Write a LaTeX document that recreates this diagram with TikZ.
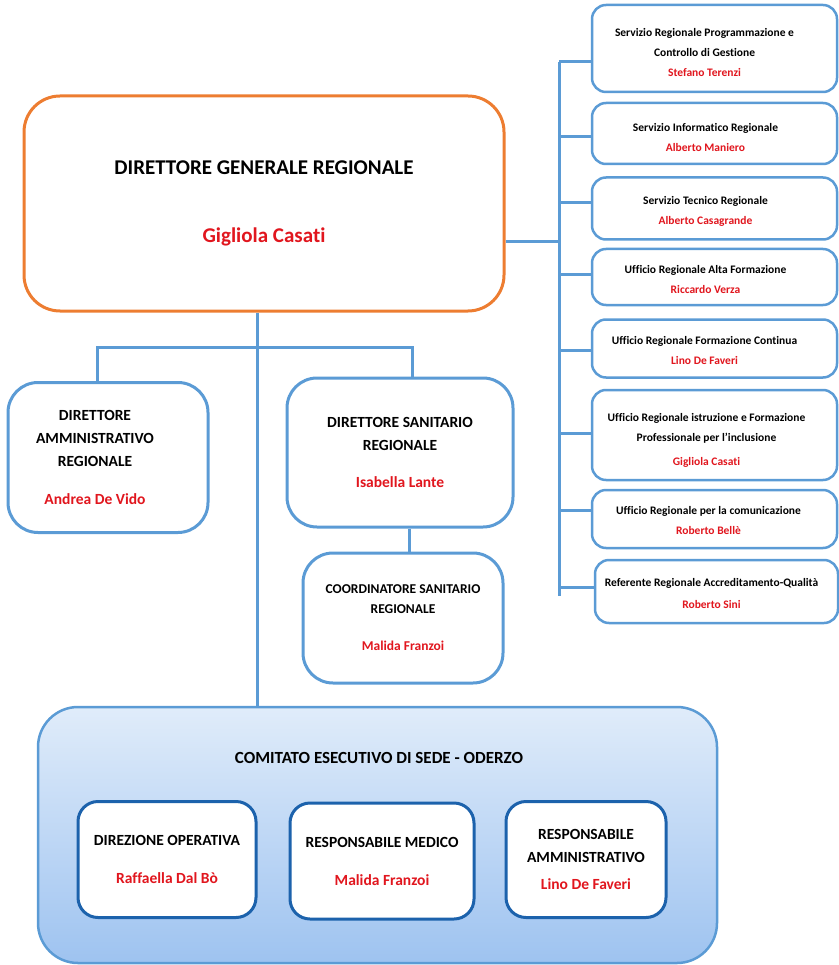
\documentclass[tikz,border=0pt]{standalone}
\usepackage{fontspec}
\setmainfont{Carlito}[Ligatures=NoCommon]
\definecolor{linkblue}{RGB}{91,155,213}
\definecolor{mainorange}{RGB}{237,125,49}
\definecolor{namered}{RGB}{225,22,30}
\definecolor{deepblue}{RGB}{28,98,172}
\definecolor{paleblue}{RGB}{224,236,250}
\definecolor{skyblue}{RGB}{158,195,240}
\newcommand{\nome}[1]{\textcolor{namered}{#1}}

\begin{document}
\begin{tikzpicture}[x=1pt, y=-1pt,
    every node/.style={align=center, inner sep=0pt},
    link/.style={draw=linkblue, line width=3pt},
    ufficio/.style={draw=linkblue, line width=2.5pt, fill=white, rounded corners=14pt, minimum width=245},
    voce/.style={font=\fontsize{11.5}{20}\selectfont\bfseries},
    direttore/.style={draw=linkblue, line width=3pt, fill=white, rounded corners=30pt,
        font=\fontsize{15.5}{23}\selectfont\bfseries},
    membro/.style={draw=deepblue, line width=3pt, fill=white, rounded corners=20pt,
        minimum height=116, font=\fontsize{15.5}{23}\selectfont\bfseries}]
    \useasboundingbox (0,0) rectangle (838,965);

    % direttore generale
    \node[draw=mainorange, line width=3pt, fill=white, rounded corners=36pt,
          minimum width=480, minimum height=215, font=\fontsize{21}{26}\selectfont\bfseries]
          (dg) at (264,203.5) {DIRETTORE GENERALE REGIONALE\\[42pt]\nome{Gigliola Casati}};

    % servizi e uffici regionali
    \node[ufficio, minimum height=87] (s1) at (714.5,48.5) {};
    \node[voce] (v1) at ([shift={(-10,4)}]s1.center)
          {Servizio Regionale Programmazione e\\Controllo di Gestione\\\nome{Stefano Terenzi}};
    \node[ufficio, minimum height=61] (s2) at (714.5,133.5) {};
    \node[voce] (v2) at ([shift={(-9,4)}]s2.center) {Servizio Informatico Regionale\\\nome{Alberto Maniero}};
    \node[ufficio, minimum height=62] (s3) at (714.5,208.5) {};
    \node[voce] (v3) at ([shift={(-9,3)}]s3.center) {Servizio Tecnico Regionale\\\nome{Alberto Casagrande}};
    \node[ufficio, minimum height=56] (s4) at (714.5,277) {};
    \node[voce] (v4) at ([shift={(-9,3)}]s4.center) {Ufficio Regionale Alta Formazione\\\nome{Riccardo Verza}};
    \node[ufficio, minimum height=58] (s5) at (714.5,348.5) {};
    \node[voce] (v5) at ([shift={(-10,2)}]s5.center) {Ufficio Regionale Formazione Continua\\\nome{Lino De Faveri}};
    \node[ufficio, minimum height=90] (s6) at (714.5,435) {};
    \node[voce] (v6) at ([shift={(-8,5)}]s6.center)
          {Ufficio Regionale istruzione e Formazione\\Professionale per l'inclusione\\[4pt]\nome{Gigliola Casati}};
    \node[ufficio, minimum height=58] (s7) at (714.5,519) {};
    \node[voce] (v7) at ([shift={(-6,2)}]s7.center) {Ufficio Regionale per la comunicazione\\\nome{Roberto Bellè}};
    \node[ufficio, minimum height=63, minimum width=243] (s8) at (716.5,591.5) {};
    \node[voce] (v8) at ([shift={(-5,2)}]s8.center) {Referente Regionale Accreditamento-Qualità\\[2pt]\nome{Roberto Sini}};

    % direttori
    \node[direttore, minimum width=200, minimum height=150] (da) at (108,457.5) {};
    \node[font=\fontsize{15.5}{23}\selectfont\bfseries] (va) at ([shift={(-13,0)}]da.center)
          {DIRETTORE\\AMMINISTRATIVO\\REGIONALE\\[15pt]\nome{Andrea De Vido}};
    \node[direttore, minimum width=226, minimum height=149] (ds) at (400,452.5)
          {DIRETTORE SANITARIO\\REGIONALE\\[14pt]\nome{Isabella Lante}};
    \node[direttore, minimum width=200, minimum height=130, font=\fontsize{13.5}{19.5}\selectfont\bfseries]
          (cs) at (403,618) {COORDINATORE SANITARIO\\REGIONALE\\[18pt]\nome{Malida Franzoi}};

    % comitato esecutivo
    \node[draw=linkblue, line width=2.5pt, top color=paleblue, bottom color=skyblue,
          rounded corners=40pt, minimum width=679, minimum height=256] (com) at (377.5,835) {};
    \node[font=\fontsize{17}{20}\selectfont\bfseries] (ct) at (379,758) {COMITATO ESECUTIVO DI SEDE - ODERZO};
    \node[membro, minimum width=178] (m1) at (167,859.5)
          {DIREZIONE OPERATIVA\\[15pt]\nome{Raffaella Dal Bò}};
    \node[membro, minimum width=184] (m2) at (382,861)
          {RESPONSABILE MEDICO\\[15pt]\nome{Malida Franzoi}};
    \node[membro, minimum width=160] (m3) at (586,859.5)
          {RESPONSABILE\\AMMINISTRATIVO\\[4pt]\nome{Lino De Faveri}};

    % collegamenti
    \coordinate (hub) at (257,347);
    \coordinate (jL) at (97,347);
    \coordinate (jR) at (412,347);
    \coordinate (jS) at (409,540);
    \coordinate (bus) at (559,242);
    \draw[link] (dg.south -| hub) -- (com.north -| hub);
    \draw[link] (da.north -| jL) -- (jL) -- (jR) -- (ds.north -| jR);
    \draw[link] (ds.south -| jS) -- (cs.north -| jS);
    \draw[link] (dg.east |- bus) -- (bus);
    \draw[link] ([yshift=-13.5pt]s1.west -| bus) -- ([yshift=-4pt]s8.west -| bus);
    \draw[link] ([yshift=-13.5pt]s1.west -| bus) -- ([yshift=-13.5pt]s1.west);
    \foreach \s/\d in {s2/-3,s3/6,s4/2,s5/-2,s6/2,s7/9,s8/4}
        \draw[link] ([yshift=\d pt]\s.west -| bus) -- ([yshift=\d pt]\s.west);
\end{tikzpicture}
\end{document}
